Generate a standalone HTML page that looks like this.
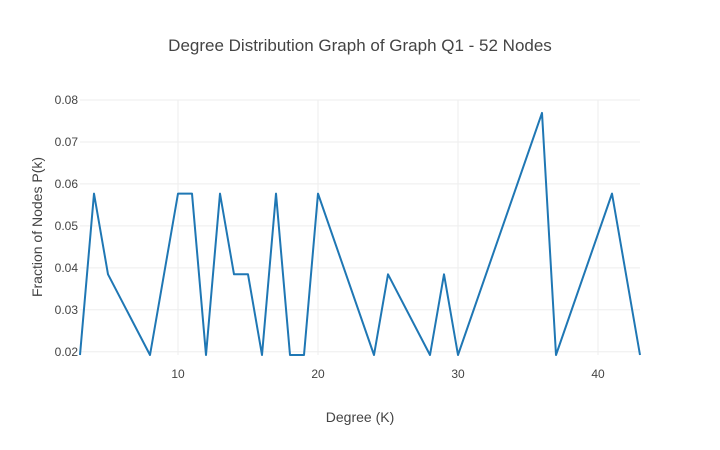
<!DOCTYPE html>
<html><head><meta charset="utf-8"><style>
html,body{margin:0;padding:0;background:#fff}
svg{display:block;font-family:"Liberation Sans","Open Sans",sans-serif}
</style></head><body>
<svg id="chart" width="720" height="450">
<text x="360" y="51" text-anchor="middle" font-size="17" fill="#444">Degree Distribution Graph of Graph Q1 - 52 Nodes</text>
<g id="grid"></g>
<g id="yticks"></g>
<g id="xticks"></g>
<g id="series"></g>
<text x="360" y="422" text-anchor="middle" font-size="14" fill="#444">Degree (K)</text>
<text transform="translate(42,227) rotate(-90)" text-anchor="middle" font-size="14" fill="#444">Fraction of Nodes P(k)</text>
</svg>
<script>
const degrees=[3,4,5,8,10,11,12,13,14,15,16,17,18,19,20,24,25,28,29,30,36,37,41,43];
const fractions=[0.01923,0.05769,0.03846,0.01923,0.05769,0.05769,0.01923,0.05769,0.03846,0.03846,0.01923,0.05769,0.01923,0.01923,0.05769,0.01923,0.03846,0.01923,0.03846,0.01923,0.07692,0.01923,0.05769,0.01923];
const xTicks=[10,20,30,40];
const yTicks=[0.02,0.03,0.04,0.05,0.06,0.07,0.08];
const yTickLabels=["0.02","0.03","0.04","0.05","0.06","0.07","0.08"];
const NS="http://www.w3.org/2000/svg";
const L=80,R=640,T=100,B=355;
const xMin=3,xMax=43,yMin=0.01923,yMax=0.08;
const xs=v=>L+(v-xMin)/(xMax-xMin)*(R-L);
const ys=v=>B-(v-yMin)/(yMax-yMin)*(B-T);
function mk(tag,attrs,parent){const e=document.createElementNS(NS,tag);for(const k in attrs)e.setAttribute(k,attrs[k]);parent.appendChild(e);return e;}
const grid=document.getElementById('grid'),yt=document.getElementById('yticks'),xt=document.getElementById('xticks'),ser=document.getElementById('series');
yTicks.forEach((v,i)=>{
  const y=ys(v);
  const g=mk('line',{x1:L,x2:R,y1:y,y2:y,stroke:'#eee','stroke-width':1},grid);
  
  
  const t=mk('text',{x:L-2,y:y+4,'text-anchor':'end','font-size':12,fill:'#444'},yt);
  t.textContent=yTickLabels[i];
  
  
});
xTicks.forEach(v=>{
  const x=xs(v);
  const g=mk('line',{x1:x,x2:x,y1:T,y2:B,stroke:'#eee','stroke-width':1},grid);
  
  
  const t=mk('text',{x:x,y:B+23,'text-anchor':'middle','font-size':12,fill:'#444'},xt);
  t.textContent=String(v);
  
  
});
const pts=degrees.map((d,i)=>xs(d).toFixed(2)+','+ys(fractions[i]).toFixed(2)).join(' ');
const line=mk('polyline',{points:pts,fill:'none',stroke:'#1f77b4','stroke-width':2,'stroke-linejoin':'round'},ser);


</script>
</body></html>
